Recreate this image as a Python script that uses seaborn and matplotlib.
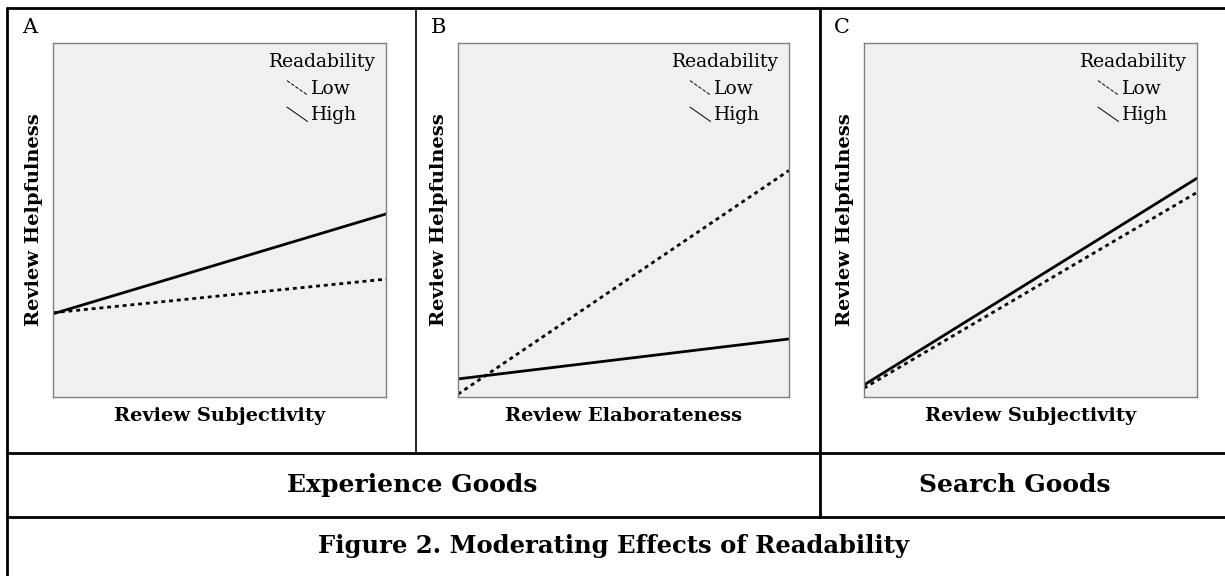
import numpy as np
import pandas as pd
import matplotlib
matplotlib.use('Agg')
import matplotlib.pyplot as plt
import seaborn as sns
from matplotlib.lines import Line2D
from matplotlib.legend_handler import HandlerBase

# Données (x et y normalisés entre 0 et 1)
x_ends = [0.0, 1.0]
a_high = [0.235, 0.517]
a_low = [0.238, 0.333]
b_high = [0.051, 0.164]
b_low = [0.008, 0.640]
c_high = [0.034, 0.618]
c_low = [0.025, 0.578]

panel_letters = ['A', 'B', 'C']
x_labels = ['Review Subjectivity', 'Review Elaborateness', 'Review Subjectivity']
y_label = 'Review Helpfulness'
legend_title = 'Readability'
levels = ['Low', 'High']
row_labels = ['Experience Goods', 'Search Goods']
fig_title = 'Figure 2. Moderating Effects of Readability'

sns.set_style('white')
plt.rcParams['font.family'] = ['DejaVu Serif']
plt.rcParams['text.color'] = 'black'
plt.rcParams['axes.labelcolor'] = 'black'

W, H = 1225, 576
fig = plt.figure(figsize=(W / 100, H / 100), dpi=100)


def fx(px):
    return px / W


def fy(py):
    return 1 - py / H


class DiagHandler(HandlerBase):
    # petite ligne en diagonale comme dans la légende d'origine
    def create_artists(self, legend, orig_handle, xdescent, ydescent,
                       width, height, fontsize, trans):
        line = Line2D([-xdescent, -xdescent + width],
                      [-ydescent + height * 1.0, -ydescent - height * 0.1],
                      color='black', lw=0.7,
                      linestyle=orig_handle.get_linestyle(), transform=trans)
        return [line]


panels = [
    (53, 386, a_low, a_high),
    (458, 789, b_low, b_high),
    (864, 1197, c_low, c_high),
]
letter_x = [22, 431, 834]

for i, (x0, x1, low, high) in enumerate(panels):
    ax = fig.add_axes([fx(x0), fy(397), fx(x1 - x0), (397 - 43) / H])
    df = pd.DataFrame({
        'x': x_ends * 2,
        'y': low + high,
        'Readability': ['Low'] * 2 + ['High'] * 2,
    })
    sns.lineplot(data=df, x='x', y='y', style='Readability',
                 dashes={'Low': (1.4, 1.4), 'High': ''},
                 color='black', linewidth=2, legend=False, ax=ax)
    ax.set_xlim(0, 1)
    ax.set_ylim(0, 1)
    ax.set_xticks([])
    ax.set_yticks([])
    ax.set_facecolor('#f0f0f0')
    for s in ax.spines.values():
        s.set_color('#808080')
        s.set_linewidth(1)
    ax.set_xlabel(x_labels[i], fontsize=14, fontweight='bold', labelpad=7)
    ax.set_ylabel(y_label, fontsize=14, fontweight='bold', labelpad=7)

    handles = [Line2D([], [], color='black', linestyle=(0, (2, 2))),
               Line2D([], [], color='black', linestyle='-')]
    leg = ax.legend(handles, levels, title=legend_title, loc='upper right',
                    frameon=False, fontsize=13.5, title_fontsize=13.5,
                    handlelength=1.1, handletextpad=0.2, labelspacing=0.45,
                    borderaxespad=0.05, borderpad=0.5,
                    handler_map={Line2D: DiagHandler()})

    fig.text(fx(letter_x[i]), fy(33), panel_letters[i], fontsize=15,
             va='baseline', ha='left')

# Cadre du tableau
def hline(y, x0=7, x1=W):
    fig.add_artist(Line2D([fx(x0), fx(x1)], [fy(y), fy(y)], color='black',
                          lw=2, transform=fig.transFigure))


def vline(x, y0, y1, lw=2):
    fig.add_artist(Line2D([fx(x), fx(x)], [fy(y0), fy(y1)], color='black',
                          lw=lw, transform=fig.transFigure))


hline(8)
hline(453)
hline(517)
vline(7, 8, H)
vline(416, 8, 453, lw=1.2)
vline(820, 8, 517)

fig.text(fx(412), fy(485), row_labels[0], fontsize=18, fontweight='bold',
         ha='center', va='center')
fig.text(fx(1015), fy(485), row_labels[1], fontsize=18, fontweight='bold',
         ha='center', va='center')
fig.text(fx(614), fy(546), fig_title, fontsize=17.5, fontweight='bold',
         ha='center', va='center')

fig.savefig('out.png', dpi=100)
